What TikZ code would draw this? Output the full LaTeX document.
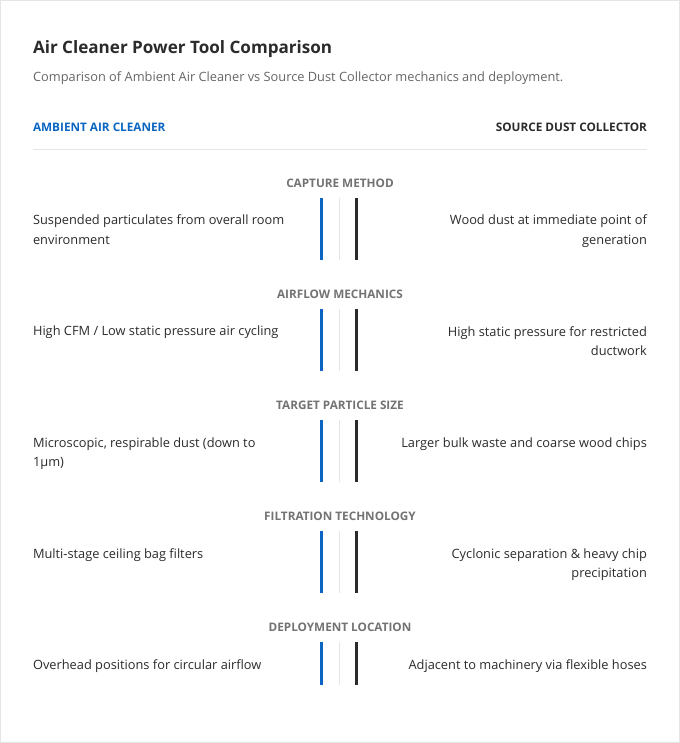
\documentclass[tikz,border=0pt]{standalone}
\usepackage{fontspec}
\setmainfont{Open Sans}
\usetikzlibrary{positioning}
\definecolor{accent}{HTML}{0A66C2}
\definecolor{ink}{HTML}{2B2B2B}
\definecolor{muted}{HTML}{666666}
\definecolor{rule}{HTML}{E5E5E5}
\tikzset{
  body/.style={font=\fontsize{9.6}{14.5}\selectfont, text=ink, inner sep=0pt},
  sect/.style={font=\fontsize{8.8}{10}\selectfont\bfseries, text=gray!90!black, inner sep=0pt},
  head/.style={font=\fontsize{8.8}{10}\selectfont\bfseries, inner sep=0pt}
}
\begin{document}
\begin{tikzpicture}[x=0.75pt,y=-0.75pt]
\draw[rule,fill=white] (0.5,0.5) rectangle (679.5,742.5);
\node[anchor=base west,inner sep=0pt,font=\fontsize{12.8}{15}\selectfont\bfseries,text=ink] (title) at (33,54) {Air Cleaner Power Tool Comparison};
\node[anchor=base west,inner sep=0pt,font=\fontsize{9.6}{12}\selectfont,text=muted] (sub) at (33,82) {Comparison of Ambient Air Cleaner vs Source Dust Collector mechanics and deployment.};
\node[head,text=accent,anchor=base west] (left) at (33,132) {AMBIENT AIR CLEANER};
\node[head,text=ink,anchor=base east] (right) at (647,132) {SOURCE DUST COLLECTOR};
\draw[rule] (33,149) -- (647,149);
% one block per criterion: label, left text, right text, bar length
\foreach \L/\A/\B/\h [count=\i from 0] in {
  CAPTURE METHOD/{Suspended particulates from overall room\\environment}/{Wood dust at immediate point of\\generation}/62,
  AIRFLOW MECHANICS/{High CFM / Low static pressure air cycling}/{High static pressure for restricted\\ductwork}/62,
  TARGET PARTICLE SIZE/{Microscopic, respirable dust (down to\\1µm)}/{Larger bulk waste and coarse wood chips}/62,
  FILTRATION TECHNOLOGY/{Multi-stage ceiling bag filters}/{Cyclonic separation \& heavy chip\\precipitation}/62,
  DEPLOYMENT LOCATION/{Overhead positions for circular airflow}/{Adjacent to machinery via flexible hoses}/43}
{
  \pgfmathsetmacro{\y}{111*\i}
  \node[sect] (lab-\i) at (340,183+\y) {\L};
  \fill[accent] (320.5,198+\y) rectangle (323.5,198+\h+\y);
  \fill[rule] (339.5,198+\y) rectangle (340.5,198+\h+\y);
  \fill[ink] (355.5,198+\y) rectangle (358.5,198+\h+\y);
  \node[body,anchor=north west,align=left] (amb-\i) at (33,215+\y) {\A};
  \node[body,anchor=north east,align=right] (src-\i) at (647,215+\y) {\B};
}
\end{tikzpicture}
\end{document}
